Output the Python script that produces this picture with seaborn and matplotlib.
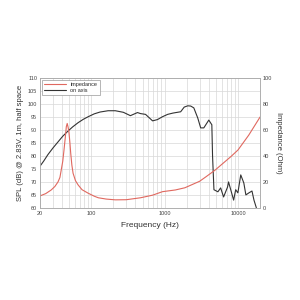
import numpy as np
import pandas as pd
import matplotlib
matplotlib.use("Agg")
import matplotlib.pyplot as plt
from matplotlib.ticker import FixedLocator, NullFormatter
import seaborn as sns

# SPL on axis (dB)
splFreq = [20, 22.5, 25.7, 30, 35.3, 41, 48.4, 56, 66.3, 78, 91, 110, 132, 170, 213, 274,
           342, 427, 470, 550, 686, 800, 936, 1100, 1300, 1500, 1655, 1850, 2070, 2270, 2500,
           2830, 3100, 3420, 4000, 4400, 4500, 4700, 5320, 5800, 6360, 7200, 7430, 7960, 8720,
           9300, 9960, 10900, 12000, 12800, 14100, 15500, 16500, 17800]
splDb = [76, 78, 80.5, 83, 85.4, 87.6, 89.6, 91.2, 92.8, 94.1, 95.1, 96.2, 96.9, 97.4, 97.4,
         96.8, 95.5, 96.7, 96.3, 96, 93.5, 94, 95.1, 96, 96.5, 96.8, 97, 98.8, 99.3, 99.2,
         98.5, 94.6, 90.8, 90.8, 93.8, 92, 80, 67, 66.2, 67.7, 64.2, 68, 70, 67, 63, 67, 65.8,
         72.7, 69.6, 65, 65.8, 66.5, 63, 60]

# impedance (Ohm)
impFreq = [20, 24, 28.5, 32, 35.3, 37.5, 39, 41, 42.6, 44.5, 45.8, 47.1, 48.5, 49.9, 51.3,
           52.6, 54.5, 56.6, 61, 66.3, 75, 91, 110, 125, 160, 213, 300, 470, 686, 936, 1400,
           1890, 3000, 3670, 4850, 8000, 10000, 14000, 20000]
impOhm = [9.2, 11, 13.8, 16.5, 20, 23.5, 29, 36, 44.6, 55, 62.5, 65, 62, 57.4, 50, 42, 33,
          26.7, 21, 17.7, 14, 11.3, 9, 7.8, 6.8, 6.2, 6.3, 7.8, 9.8, 12.5, 13.8, 15.5, 20.5,
          24, 29, 39.5, 44.6, 56, 70]

xTicks = [20, 100, 1000, 10000]
xTickLabels = ["20", "100", "1000", "10000"]

sns.set_theme(style="whitegrid")
plt.rcParams['font.family'] = ['Liberation Sans', 'DejaVu Sans']

spl = pd.DataFrame({"f": splFreq, "v": splDb})
imp = pd.DataFrame({"f": impFreq, "v": impOhm})

fig = plt.figure(figsize=(3, 3), dpi=100)
ax = fig.add_axes([0.133, 0.307, 0.734, 0.433])
ax2 = ax.twinx()

sns.lineplot(data=spl, x="f", y="v", ax=ax, color="#333333", lw=0.8, estimator=None)
sns.lineplot(data=imp, x="f", y="v", ax=ax2, color="#e0685f", lw=0.8, estimator=None)

ax.set_xscale("log")
ax.set_xlim(20, 20000)
ax.set_ylim(60, 110)
ax2.set_ylim(0, 100)
ax.set_yticks(np.arange(60, 111, 5))
ax2.set_yticks(np.arange(0, 101, 20))
ax.xaxis.set_major_locator(FixedLocator(xTicks))
ax.set_xticklabels(xTickLabels)
minors = [m * d for d in [10, 100, 1000, 10000] for m in range(2, 10) if 20 <= m * d <= 20000]
ax.xaxis.set_minor_locator(FixedLocator(minors))
ax.xaxis.set_minor_formatter(NullFormatter())

ax.grid(True, which="both", axis="x", color="#d8d8d8", lw=0.5)
ax.grid(True, which="major", axis="y", color="#d8d8d8", lw=0.5)
ax2.grid(False)

for a in (ax, ax2):
    a.tick_params(labelsize=4, length=0, pad=2, colors="#444444")
    for s in a.spines.values():
        s.set_color("#aaaaaa")
        s.set_linewidth(0.5)

ax.set_xlabel("Frequency (Hz)", fontsize=6, color="#333333", labelpad=3)
ax.set_ylabel("SPL (dB) @ 2.83V, 1m, half space", fontsize=5.5, color="#333333", labelpad=3)
ax2.set_ylabel("Impedance (Ohm)", fontsize=5.5, color="#333333", rotation=270, labelpad=7)

h1 = ax2.get_lines()[0]
h0 = ax.get_lines()[0]
leg = ax2.legend([h1, h0], ["impedance", "on axis"], loc="upper left", fontsize=4,
                 frameon=True, fancybox=False, edgecolor="#999999", framealpha=1,
                 handlelength=4, borderaxespad=0.3, labelspacing=0.2)
leg.get_frame().set_linewidth(0.5)

fig.savefig("out.png", dpi=100, facecolor="white")
